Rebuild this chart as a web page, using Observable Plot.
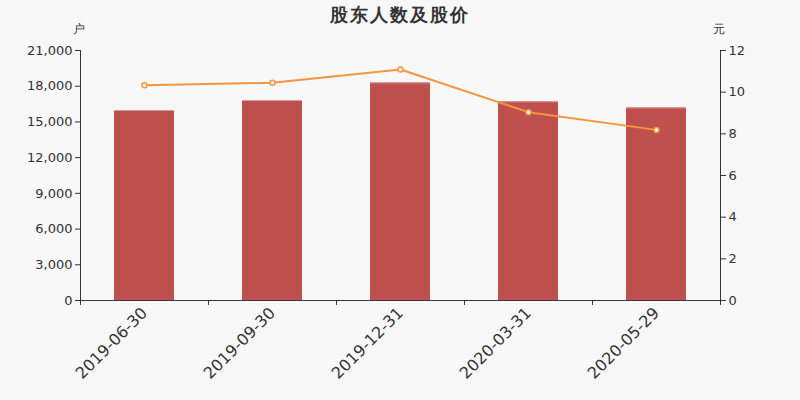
<!DOCTYPE html>
<html><head><meta charset="utf-8">
<script src="https://cdn.jsdelivr.net/npm/d3@7"></script>
<script src="https://cdn.jsdelivr.net/npm/@observablehq/plot@0.6"></script>
<style>
html,body{margin:0;padding:0;background:#f8f8f8;}
#wrap{position:relative;width:800px;height:400px;font-family:"DejaVu Sans",sans-serif;color:#333;}
.lbl{position:absolute;white-space:nowrap;}
</style></head>
<body>
<div id="wrap">
  <div class="lbl" style="left:0;width:800px;top:3px;text-align:center;font-size:18px;font-weight:bold;letter-spacing:2px;">股东人数及股价</div>
  <div class="lbl" style="left:73px;top:21px;font-size:12px;">户</div>
  <div class="lbl" style="left:713px;top:21px;font-size:12px;">元</div>
  <div id="chart"></div>
</div>
<script>
const dates = ["2019-06-30", "2019-09-30", "2019-12-31", "2020-03-31", "2020-05-29"];
const holders = [15960, 16800, 18280, 16690, 16180];
const prices = [10.33, 10.45, 11.09, 9.04, 8.19];
const leftTicks = [0, 3000, 6000, 9000, 12000, 15000, 18000, 21000];
const rightTicks = [0, 2, 4, 6, 8, 10, 12];

const k = 21000 / 12;
const data = dates.map((d, i) => ({date: d, holders: holders[i], price: prices[i]}));
const lineColor = "#f5953f";
const axisColor = "#333";

const chart = Plot.plot({
  width: 800, height: 400,
  marginTop: 50, marginBottom: 100, marginLeft: 80, marginRight: 80,
  style: {background: "transparent", fontFamily: "DejaVu Sans", color: "#333", overflow: "visible"},
  x: {domain: dates, padding: 0, label: null},
  y: {domain: [0, 21000], label: null},
  marks: [
    Plot.barY(data, {x: "date", y: "holders", fill: "#c0504d", insetLeft: 34, insetRight: 34}),
    Plot.tickY(data, {x: "date", y: "holders", stroke: "#d79896", strokeWidth: 1, inset: 34}),
    Plot.frame({anchor: "left", stroke: axisColor}),
    Plot.frame({anchor: "right", stroke: axisColor}),
    Plot.frame({anchor: "bottom", stroke: axisColor}),
    Plot.ruleX(dates, {x: d => d, dx: -64, insetTop: 250, insetBottom: -5, stroke: axisColor}),
    Plot.ruleX([dates[dates.length - 1]], {x: d => d, dx: 64, insetTop: 250, insetBottom: -5, stroke: axisColor}),
    Plot.axisY({ticks: leftTicks, tickFormat: d3.format(","), tickSize: 5, tickPadding: 3, fontSize: 13, label: null, stroke: axisColor}),
    Plot.axisY({anchor: "right", ticks: rightTicks.map(v => v * k), tickFormat: d => Math.round(d / k), tickSize: 5, tickPadding: 3, fontSize: 13, label: null, stroke: axisColor}),
    Plot.axisX({tickSize: 0, tickPadding: 10, tickRotate: -45, fontSize: 16, label: null}),
    Plot.line(data, {x: "date", y: d => d.price * k, stroke: lineColor, strokeWidth: 2}),
    Plot.dot(data, {x: "date", y: d => d.price * k, r: 2.5, fill: "white", stroke: lineColor, strokeWidth: 1.5})
  ]
});
document.getElementById("chart").appendChild(chart);
</script>
</body></html>
